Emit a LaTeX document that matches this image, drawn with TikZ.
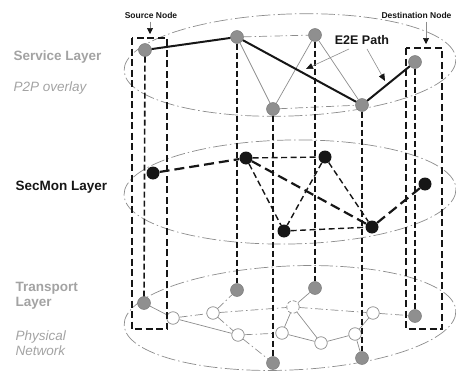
\documentclass[tikz,border=0pt]{standalone}
\usepackage{fontspec}
\setmainfont{Liberation Sans}
\usepackage{xcolor}
\definecolor{layer-gray}{HTML}{8C8C8C}
\definecolor{text-gray}{HTML}{A3A3A3}
\definecolor{peer-gray}{HTML}{8F8F8F}
\definecolor{mon-black}{HTML}{161616}
\usetikzlibrary{arrows.meta}

\begin{document}
\begin{tikzpicture}[x=1pt, y=-1pt,
    peer/.style={circle, fill=peer-gray, draw=peer-gray!80!black, line width=0.4pt, inner sep=0pt, minimum size=13pt},
    monitor/.style={circle, fill=mon-black, inner sep=0pt, minimum size=13pt},
    router/.style={circle, fill=white, draw=layer-gray, line width=0.7pt, inner sep=0pt, minimum size=12.5pt},
    plane/.style={draw=layer-gray, line width=0.7pt, dash pattern=on 14pt off 3pt on 1.5pt off 3pt},
    link/.style={draw=layer-gray, line width=0.7pt},
    dotlink/.style={link, dash pattern=on 8pt off 3pt on 1.5pt off 3pt},
    e2eline/.style={draw=mon-black, line width=2pt},
    e2edash/.style={draw=mon-black, line width=2.2pt, dash pattern=on 10pt off 5pt},
    mondash/.style={draw=mon-black, line width=1.4pt, dash pattern=on 6pt off 3.5pt},
    drop/.style={draw=mon-black, line width=1.6pt, dash pattern=on 6pt off 3pt},
    pinbox/.style={draw=mon-black, line width=2pt, dash pattern=on 7pt off 3.5pt},
    pointer/.style={draw=layer-gray, line width=0.6pt, -{Triangle[length=7pt, width=6pt, color=mon-black]}},
    layertext/.style={anchor=west, align=left, text=text-gray, font=\fontsize{13.5}{15}\selectfont\bfseries},
    overlaytext/.style={anchor=west, align=left, text=text-gray, font=\fontsize{13.5}{15}\selectfont\itshape},
    tagtext/.style={font=\fontsize{8.5}{10}\selectfont\bfseries, text=mon-black}
]

    \useasboundingbox (0, 0) rectangle (456, 372);

    % Layer planes
    \draw[plane, rotate around={2:(290, 65)}] (290, 65) ellipse (166 and 51);
    \draw[plane, rotate around={1:(290, 192)}] (290, 192) ellipse (166 and 52);
    \draw[plane, rotate around={2.5:(290, 318)}] (290, 318) ellipse (166 and 52);

    % Layer names
    \node[layertext] (srvname) at (10, 57) {Service Layer};
    \node[overlaytext] (p2pname) at (10, 88) {P2P overlay};
    \node[layertext, text=mon-black] (monname) at (12, 187) {SecMon Layer};
    \node[layertext] (trpname) at (12, 296) {Transport\\Layer};
    \node[overlaytext, font=\fontsize{13.5}{15}\selectfont\itshape\mdseries] (phyname) at (12, 343) {Physical\\Network};

    % Service layer peers
    \node[peer] (s1) at (145, 50) {};
    \node[peer] (s2) at (237, 37) {};
    \node[peer] (s3) at (315, 35) {};
    \node[peer] (s4) at (273, 109) {};
    \node[peer] (s5) at (362, 105) {};
    \node[peer] (s6) at (415, 62) {};

    % SecMon layer monitors
    \node[monitor] (m1) at (153, 173) {};
    \node[monitor] (m2) at (246, 158) {};
    \node[monitor] (m3) at (325, 157) {};
    \node[monitor] (m4) at (284, 231) {};
    \node[monitor] (m5) at (372, 227) {};
    \node[monitor] (m6) at (425, 184) {};

    % Transport layer hosts
    \node[peer] (t1) at (144, 303) {};
    \node[peer] (t2) at (237, 290) {};
    \node[peer] (t3) at (273, 363) {};
    \node[peer] (t4) at (315, 288) {};
    \node[peer] (t5) at (362, 358) {};
    \node[peer] (t6) at (415, 316) {};

    % Transport layer routers
    \node[router] (w1) at (173, 318) {};
    \node[router] (w2) at (213, 313) {};
    \node[router] (w3) at (238, 335) {};
    \node[router] (w4) at (282, 333) {};
    \node[router, dash pattern=on 4pt off 2pt] (w5) at (293, 307) {};
    \node[router] (w6) at (321, 343) {};
    \node[router] (w7) at (355, 334) {};
    \node[router] (w8) at (373, 313) {};

    % Service overlay links
    \draw[link] (s2) -- (s4);
    \draw[link] (s3) -- (s4);
    \draw[link] (s3) -- (s5);
    \draw[dotlink] (s2) -- (s3);
    \draw[dotlink] (s4) -- (s5);
    \draw[e2eline] (s1) -- (s2) -- (s5) -- (s6);

    % SecMon links
    \draw[mondash] (m2) -- (m3);
    \draw[mondash] (m2) -- (m4);
    \draw[mondash] (m3) -- (m4);
    \draw[mondash] (m3) -- (m5);
    \draw[mondash] (m4) -- (m5);
    \draw[e2edash] (m1) -- (m2);
    \draw[e2edash] (m2) -- (m5);
    \draw[e2edash] (m5) -- (m6);

    % Physical links
    \draw[link] (t1) -- (w1);
    \draw[dotlink] (w1) -- (w2);
    \draw[link] (w1) -- (w3);
    \draw[dotlink] (w2) -- (t2);
    \draw[dotlink] (w2) -- (w3);
    \draw[dotlink] (w2) -- (w5);
    \draw[dotlink] (w3) -- (w4);
    \draw[dotlink] (w3) -- (t3);
    \draw[link] (w5) -- (t4);
    \draw[link] (w5) -- (w4);
    \draw[link] (w5) -- (w6);
    \draw[link] (w4) -- (w6);
    \draw[dotlink] (w5) -- (w8);
    \draw[link] (w6) -- (w7);
    \draw[link] (w7) -- (w8);
    \draw[link] (w7) -- (t5);
    \draw[dotlink] (w8) -- (t6);

    % Vertical mapping
    \draw[drop] (s1) -- (t1);
    \draw[drop] (s2) -- (t2);
    \draw[drop] (s4) -- (t3);
    \draw[drop] (s3) -- (t4);
    \draw[drop] (s5) -- (t5);
    \draw[drop] (s6) -- (t6);

    % Source and destination boxes
    \draw[pinbox] (132, 38) rectangle (167, 329);
    \draw[pinbox] (406, 48) rectangle (442, 329);

    % Tags
    \node[tagtext] (srctag) at (151, 15) {Source Node};
    \node[tagtext, anchor=west] (dsttag) at (378, 15) {Destination Node};
    \coordinate (srctip) at (150, 34);
    \coordinate (dsttip) at (426, 44);
    \draw[pointer, -{Triangle[length=6pt, width=6pt, color=mon-black]}] (srctag.south -| srctip) -- (srctip);
    \draw[pointer, -{Triangle[length=6pt, width=6pt, color=mon-black]}] (dsttag.south -| dsttip) -- (dsttip);

    % E2E path label
    \node[tagtext, font=\fontsize{12.5}{14}\selectfont\bfseries] (e2e) at (362, 40) {E2E Path};
    \coordinate (e2etipa) at (306, 69);
    \coordinate (e2etipb) at (385, 81);
    \draw[pointer] (349, 49) -- (e2etipa);
    \draw[pointer] (367, 49) -- (e2etipb);

\end{tikzpicture}
\end{document}
